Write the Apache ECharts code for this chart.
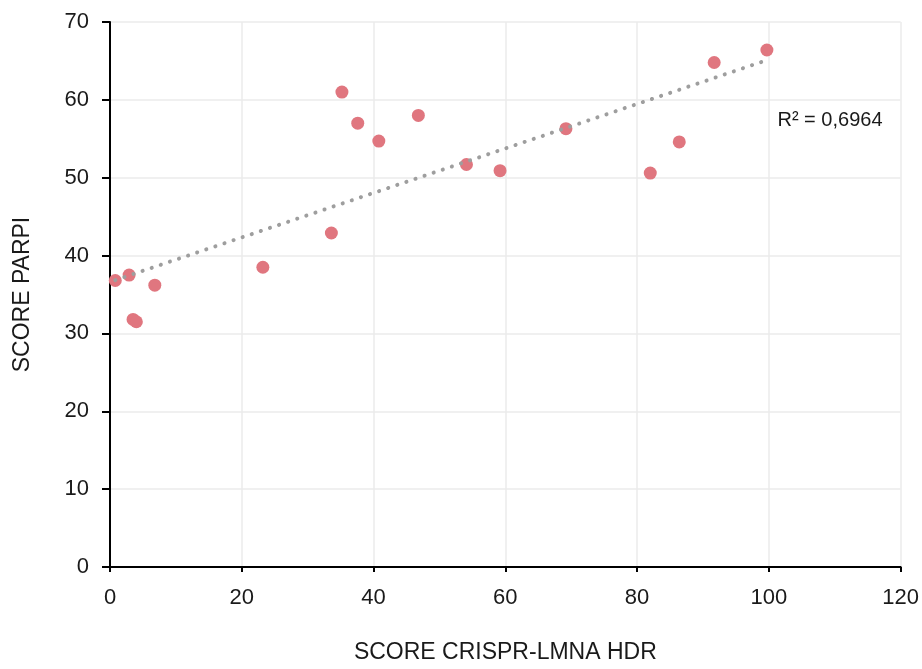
<!DOCTYPE html>
<html>
<head>
<meta charset="utf-8">
<script src="https://cdn.jsdelivr.net/npm/echarts@6/dist/echarts.min.js"></script>
<style>
  html, body { margin: 0; padding: 0; background: #fff; }
  #chart { width: 922px; height: 669px; }
</style>
</head>
<body>
<div id="chart"></div>
<script>
// CRISPR-LMNA HDR score vs PARPI score per sample
const crisprScores = [0.8, 2.9, 3.5, 4.0, 6.8, 23.2, 33.6, 35.2, 37.6, 40.8, 46.8, 54.1, 59.2, 69.2, 82.0, 86.4, 91.7, 99.7];
const parpiScores  = [36.8, 37.5, 31.8, 31.5, 36.2, 38.5, 42.9, 61.0, 57.0, 54.7, 58.0, 51.7, 50.9, 56.3, 50.6, 54.6, 64.8, 66.4];
const xTicks = [0, 20, 40, 60, 80, 100, 120];
const yTicks = [0, 10, 20, 30, 40, 50, 60, 70];
const rSquaredText = 'R² = 0,6964';

// least-squares trend line over the observed range
const n = crisprScores.length;
const mx = crisprScores.reduce((a, b) => a + b, 0) / n;
const my = parpiScores.reduce((a, b) => a + b, 0) / n;
let sxy = 0, sxx = 0;
for (let i = 0; i < n; i++) {
  sxy += (crisprScores[i] - mx) * (parpiScores[i] - my);
  sxx += (crisprScores[i] - mx) ** 2;
}
const slope = sxy / sxx;
const intercept = my - slope * mx;
const xMin = Math.min(...crisprScores), xMax = Math.max(...crisprScores);
const trend = [[xMin, intercept + slope * xMin], [xMax, intercept + slope * xMax]];

const FONT = '"Liberation Sans Narrow", "Arial Narrow", "Liberation Sans", Arial, sans-serif';
const TEXT = '#1a1a1a';
const points = crisprScores.map((x, i) => [x, parpiScores[i]]);

const chart = echarts.init(document.getElementById('chart'), null, { renderer: 'canvas' });
chart.setOption({
  animation: false,
  backgroundColor: '#ffffff',
  grid: { left: 110, right: 20, top: 22, bottom: 97, containLabel: false },
  xAxis: {
    type: 'value', min: xTicks[0], max: xTicks[xTicks.length - 1], interval: 20,
    name: 'SCORE CRISPR-LMNA HDR', nameLocation: 'middle', nameGap: 74,
    nameTextStyle: { fontFamily: FONT, fontSize: 23, color: TEXT },
    axisLine: { show: true, onZero: false, lineStyle: { color: '#000', width: 2 } },
    axisTick: { show: true, length: 5, lineStyle: { color: '#000', width: 2 } },
    axisLabel: { fontFamily: FONT, fontSize: 22, color: TEXT, margin: 20 },
    splitLine: { show: true, lineStyle: { color: '#ebebeb', width: 1.5 } }
  },
  yAxis: {
    type: 'value', min: yTicks[0], max: yTicks[yTicks.length - 1], interval: 10,
    name: 'SCORE PARPI', nameLocation: 'middle', nameGap: 76, nameRotate: 90,
    nameTextStyle: { fontFamily: FONT, fontSize: 23, color: TEXT },
    axisLine: { show: true, onZero: false, lineStyle: { color: '#000', width: 2 } },
    axisTick: { show: true, length: 8, lineStyle: { color: '#000', width: 2 } },
    axisLabel: { fontFamily: FONT, fontSize: 22, color: TEXT, margin: 21 },
    splitLine: { show: true, lineStyle: { color: '#ebebeb', width: 1.5 } }
  },
  series: [
    {
      type: 'scatter', data: points, symbol: 'circle', symbolSize: 13,
      itemStyle: { color: '#e0767f', opacity: 1 }, z: 2
    },
    {
      type: 'line', data: trend, symbol: 'none', z: 3, silent: true,
      lineStyle: { color: '#9e9e9e', width: 4, type: [0.1, 9.5], cap: 'round' }
    }
  ]
});

// R² annotation placed in data space
const pos = chart.convertToPixel({ gridIndex: 0 }, [101.3, 57.2]);
chart.setOption({
  graphic: [{
    type: 'text', left: pos[0], top: pos[1] - 11,
    style: { text: rSquaredText, fontFamily: FONT, fontSize: 20, fill: TEXT }
  }]
});
</script>
</body>
</html>
